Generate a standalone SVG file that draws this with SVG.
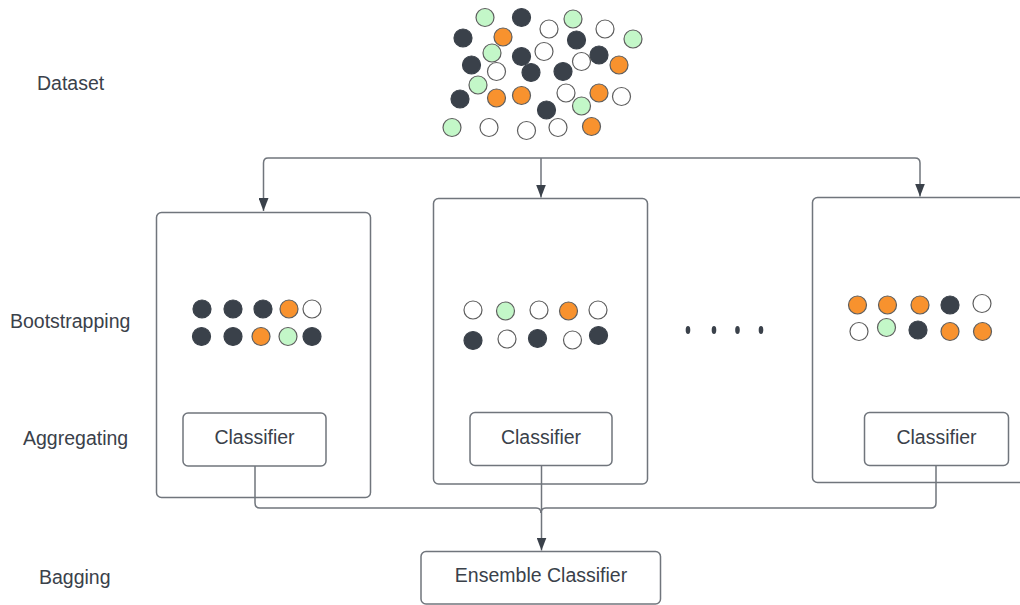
<svg xmlns="http://www.w3.org/2000/svg" width="1020" height="605" viewBox="0 0 1020 605">
<defs>
<style>
.lbl{font-family:"Liberation Sans",Arial,sans-serif;font-size:19.5px;fill:#3a414a}
.box{fill:#fff;stroke:#70757c;stroke-width:1.5}
.conn{fill:none;stroke:#70757c;stroke-width:1.5}
.d{fill:#3a414a;stroke:#3a414a;stroke-width:1.2}
.o{fill:#f8922e;stroke:#5e5e5e;stroke-width:1.2}
.g{fill:#c3f7c8;stroke:#5e5e5e;stroke-width:1.2}
.w{fill:#fff;stroke:#5e5e5e;stroke-width:1.2}
</style>
<marker id="arr" viewBox="0 0 13 10" refX="13" refY="5" markerWidth="13" markerHeight="10" markerUnits="userSpaceOnUse" orient="auto">
<path d="M0,0 L13,5 L0,10 Z" fill="#3a414a"/>
</marker>
</defs>
<rect width="1020" height="605" fill="#fff"/>

<g id="labels">
<text class="lbl" x="37" y="90">Dataset</text>
<text class="lbl" x="10" y="328">Bootstrapping</text>
<text class="lbl" x="23" y="445">Aggregating</text>
<text class="lbl" x="39" y="584">Bagging</text>
</g>

<g id="dataset">
<circle class="g" cx="485" cy="17.5" r="9"/>
<circle class="d" cx="521.5" cy="17.5" r="9"/>
<circle class="w" cx="549" cy="29" r="9"/>
<circle class="g" cx="573" cy="19" r="9"/>
<circle class="w" cx="605" cy="29" r="9"/>
<circle class="g" cx="633" cy="39" r="9"/>
<circle class="d" cx="463" cy="38" r="9"/>
<circle class="o" cx="503" cy="37" r="9"/>
<circle class="d" cx="576.5" cy="40" r="9"/>
<circle class="g" cx="492" cy="53" r="9"/>
<circle class="d" cx="521.5" cy="56.5" r="9"/>
<circle class="w" cx="544" cy="51.5" r="9"/>
<circle class="d" cx="599" cy="55" r="9"/>
<circle class="w" cx="581.5" cy="61.5" r="9"/>
<circle class="o" cx="619" cy="65" r="9"/>
<circle class="d" cx="471.5" cy="65" r="9"/>
<circle class="w" cx="496.5" cy="71.5" r="9"/>
<circle class="d" cx="531" cy="72.5" r="9"/>
<circle class="d" cx="563" cy="71.5" r="9"/>
<circle class="g" cx="478" cy="85" r="9"/>
<circle class="o" cx="496.5" cy="98" r="9"/>
<circle class="o" cx="521.5" cy="95.5" r="9"/>
<circle class="w" cx="566" cy="93" r="9"/>
<circle class="o" cx="599" cy="93" r="9"/>
<circle class="w" cx="621.5" cy="96.5" r="9"/>
<circle class="d" cx="460" cy="99" r="9"/>
<circle class="d" cx="546.5" cy="110" r="9"/>
<circle class="g" cx="581.5" cy="106" r="9"/>
<circle class="g" cx="452" cy="127.5" r="9"/>
<circle class="w" cx="489" cy="127.5" r="9"/>
<circle class="w" cx="526.5" cy="130.5" r="9"/>
<circle class="w" cx="558" cy="127.5" r="9"/>
<circle class="o" cx="591.5" cy="126.5" r="9"/>
</g>

<g id="sample1">
<rect class="box" x="156.5" y="212.5" width="214" height="285" rx="5"/>
<circle class="d" cx="202" cy="309" r="9"/>
<circle class="d" cx="233" cy="309" r="9"/>
<circle class="d" cx="263" cy="309" r="9"/>
<circle class="o" cx="289" cy="309" r="9"/>
<circle class="w" cx="312" cy="309" r="9"/>
<circle class="d" cx="201.5" cy="336.5" r="9"/>
<circle class="d" cx="233" cy="336.5" r="9"/>
<circle class="o" cx="261" cy="336.5" r="9"/>
<circle class="g" cx="288" cy="336.5" r="9"/>
<circle class="d" cx="312" cy="336.5" r="9"/>
</g>

<g id="sample2">
<rect class="box" x="433.5" y="198.5" width="214" height="285.5" rx="5"/>
<circle class="w" cx="473" cy="310" r="9"/>
<circle class="g" cx="505.5" cy="311" r="9"/>
<circle class="w" cx="539" cy="310" r="9"/>
<circle class="o" cx="568.5" cy="311" r="9"/>
<circle class="w" cx="598" cy="310" r="9"/>
<circle class="d" cx="473" cy="340.5" r="9"/>
<circle class="w" cx="507" cy="339" r="9"/>
<circle class="d" cx="537.5" cy="338.5" r="9"/>
<circle class="w" cx="572.5" cy="340" r="9"/>
<circle class="d" cx="598.5" cy="335.5" r="9"/>
</g>

<g id="sample3">
<rect class="box" x="812.5" y="197.5" width="230" height="285" rx="5"/>
<circle class="o" cx="857.5" cy="305" r="9"/>
<circle class="o" cx="887.5" cy="305" r="9"/>
<circle class="o" cx="920" cy="305" r="9"/>
<circle class="d" cx="950" cy="305" r="9"/>
<circle class="w" cx="982" cy="303.5" r="9"/>
<circle class="w" cx="859" cy="331.5" r="9"/>
<circle class="g" cx="886.5" cy="327.5" r="9"/>
<circle class="d" cx="918" cy="330" r="9"/>
<circle class="o" cx="950" cy="331.5" r="9"/>
<circle class="o" cx="982.5" cy="331.5" r="9"/>
</g>

<g id="ellipsis" fill="#3a414a">
<ellipse cx="688" cy="330" rx="2.3" ry="4"/>
<ellipse cx="714" cy="330" rx="2.3" ry="4"/>
<ellipse cx="737.5" cy="330" rx="2.3" ry="4"/>
<ellipse cx="761" cy="330" rx="2.3" ry="4"/>
</g>

<g id="connectors">
<path class="conn" d="M541 158 H268 Q263.5 158 263.5 163 V211" marker-end="url(#arr)"/>
<path class="conn" d="M541 158 H915 Q920 158 920 163 V196.5" marker-end="url(#arr)"/>
<path class="conn" d="M541 158 V197.5" marker-end="url(#arr)"/>
<path class="conn" d="M255 466 V503 Q255 508 260 508 H536 Q541 508 541 513"/>
<path class="conn" d="M936 466 V503 Q936 508 931 508 H546 Q541 508 541 513"/>
<path class="conn" d="M541.5 466 V550.5" marker-end="url(#arr)"/>
</g>

<g id="classifier1">
<rect class="box" x="183" y="413" width="143" height="53" rx="5"/>
<text class="lbl" x="254.5" y="444" text-anchor="middle">Classifier</text>
</g>
<g id="classifier2">
<rect class="box" x="470" y="412.5" width="142" height="53" rx="5"/>
<text class="lbl" x="541" y="444" text-anchor="middle">Classifier</text>
</g>
<g id="classifier3">
<rect class="box" x="864.5" y="412.5" width="144" height="53" rx="5"/>
<text class="lbl" x="936.5" y="444" text-anchor="middle">Classifier</text>
</g>
<g id="ensemble">
<rect class="box" x="421" y="551.5" width="239.5" height="52.5" rx="5"/>
<text class="lbl" x="541" y="582" text-anchor="middle">Ensemble Classifier</text>
</g>
</svg>
